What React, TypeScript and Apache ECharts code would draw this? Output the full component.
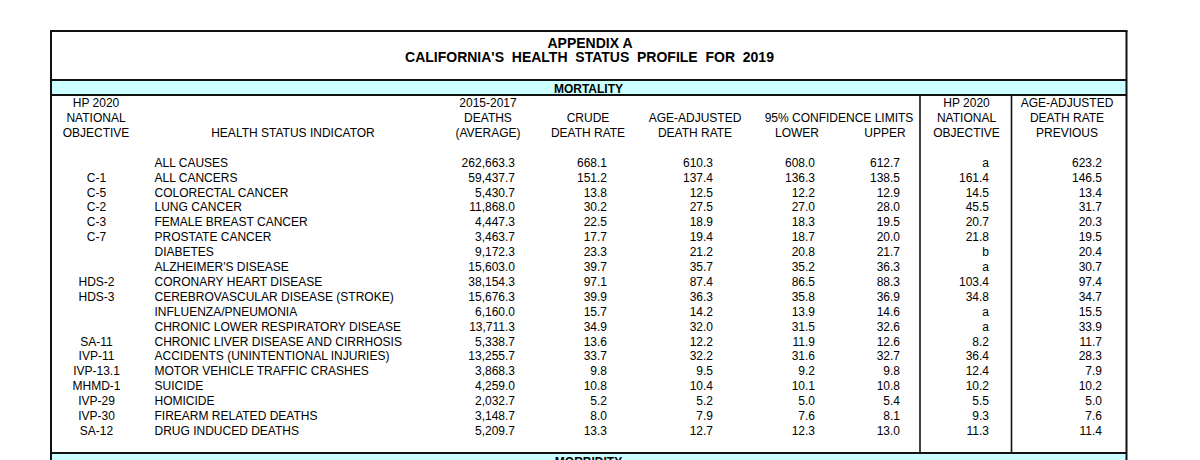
import React, { useEffect, useRef } from "react";
import * as echarts from "echarts";

// ---------- DATA ----------
const titleLines = [
  "APPENDIX A",
  "CALIFORNIA'S\u00a0 HEALTH\u00a0 STATUS\u00a0 PROFILE\u00a0 FOR\u00a0 2019",
];
const sectionLabels = ["MORTALITY", "MORBIDITY"];

const headerObjective = ["HP 2020", "NATIONAL", "OBJECTIVE"];
const headerIndicator = ["", "", "HEALTH STATUS INDICATOR"];
const headerDeaths = ["2015-2017", "DEATHS", "(AVERAGE)"];
const headerCrude = ["", "CRUDE", "DEATH RATE"];
const headerAgeAdj = ["", "AGE-ADJUSTED", "DEATH RATE"];
const headerCI = ["", "95% CONFIDENCE LIMITS", ""];
const headerLower = ["", "", "LOWER"];
const headerUpper = ["", "", "UPPER"];
const headerHp = ["HP 2020", "NATIONAL", "OBJECTIVE"];
const headerPrevious = ["AGE-ADJUSTED", "DEATH RATE", "PREVIOUS"];

const codes = [
  "", "C-1", "C-5", "C-2", "C-3", "C-7", "", "", "HDS-2", "HDS-3",
  "", "", "SA-11", "IVP-11", "IVP-13.1", "MHMD-1", "IVP-29", "IVP-30", "SA-12",
];
const indicators = [
  "ALL CAUSES",
  "ALL CANCERS",
  "COLORECTAL CANCER",
  "LUNG CANCER",
  "FEMALE BREAST CANCER",
  "PROSTATE CANCER",
  "DIABETES",
  "ALZHEIMER'S DISEASE",
  "CORONARY HEART DISEASE",
  "CEREBROVASCULAR DISEASE (STROKE)",
  "INFLUENZA/PNEUMONIA",
  "CHRONIC LOWER RESPIRATORY DISEASE",
  "CHRONIC LIVER DISEASE AND CIRRHOSIS",
  "ACCIDENTS (UNINTENTIONAL INJURIES)",
  "MOTOR VEHICLE TRAFFIC CRASHES",
  "SUICIDE",
  "HOMICIDE",
  "FIREARM RELATED DEATHS",
  "DRUG INDUCED DEATHS",
];
const deaths = [
  262663.3, 59437.7, 5430.7, 11868.0, 4447.3, 3463.7, 9172.3, 15603.0, 38154.3, 15676.3,
  6160.0, 13711.3, 5338.7, 13255.7, 3868.3, 4259.0, 2032.7, 3148.7, 5209.7,
];
const crudeRate = [
  668.1, 151.2, 13.8, 30.2, 22.5, 17.7, 23.3, 39.7, 97.1, 39.9,
  15.7, 34.9, 13.6, 33.7, 9.8, 10.8, 5.2, 8.0, 13.3,
];
const ageAdjRate = [
  610.3, 137.4, 12.5, 27.5, 18.9, 19.4, 21.2, 35.7, 87.4, 36.3,
  14.2, 32.0, 12.2, 32.2, 9.5, 10.4, 5.2, 7.9, 12.7,
];
const lowerLimit = [
  608.0, 136.3, 12.2, 27.0, 18.3, 18.7, 20.8, 35.2, 86.5, 35.8,
  13.9, 31.5, 11.9, 31.6, 9.2, 10.1, 5.0, 7.6, 12.3,
];
const upperLimit = [
  612.7, 138.5, 12.9, 28.0, 19.5, 20.0, 21.7, 36.3, 88.3, 36.9,
  14.6, 32.6, 12.6, 32.7, 9.8, 10.8, 5.4, 8.1, 13.0,
];
const hpObjective = [
  "a", "161.4", "14.5", "45.5", "20.7", "21.8", "b", "a", "103.4", "34.8",
  "a", "a", "8.2", "36.4", "12.4", "10.2", "5.5", "9.3", "11.3",
];
const previousRate = [
  623.2, 146.5, 13.4, 31.7, 20.3, 19.5, 20.4, 30.7, 97.4, 34.7,
  15.5, 33.9, 11.7, 28.3, 7.9, 10.2, 5.0, 7.6, 11.4,
];

// ---------- LAYOUT ----------
const W = 1200;
const H = 460;
const FONT = '"Liberation Sans", Arial, Helvetica, sans-serif';
const LEFT = 51;
const RIGHT = 1126.5;
const TOP = 31;
const BAND1_TOP = 80;
const BAND1_BOT = 95;
const BAND2_TOP = 453;
const VLINE1 = 920;
const VLINE2 = 1011.5;
const ROW_FIRST = 162.7;
const ROW_STEP = 14.9;
const HEADER_Y = [103.3, 118, 132.7];

type Col = { x: number; align: "left" | "center" | "right" };
const COLS: Col[] = [
  { x: 96.5, align: "center" },
  { x: 154.5, align: "left" },
  { x: 515, align: "right" },
  { x: 607, align: "right" },
  { x: 713, align: "right" },
  { x: 815, align: "right" },
  { x: 900, align: "right" },
  { x: 989, align: "right" },
  { x: 1102, align: "right" },
];

const HEADERS: { lines: string[]; x: number }[] = [
  { lines: headerObjective, x: 96 },
  { lines: headerIndicator, x: 293 },
  { lines: headerDeaths, x: 488 },
  { lines: headerCrude, x: 588 },
  { lines: headerAgeAdj, x: 695 },
  { lines: headerCI, x: 839 },
  { lines: headerLower, x: 797 },
  { lines: headerUpper, x: 885 },
  { lines: headerHp, x: 966.5 },
  { lines: headerPrevious, x: 1067 },
];

const fmt = (v: number) =>
  v.toLocaleString("en-US", { minimumFractionDigits: 1, maximumFractionDigits: 1 });

function buildCells() {
  const columns: string[][] = [
    codes,
    indicators,
    deaths.map(fmt),
    crudeRate.map(fmt),
    ageAdjRate.map(fmt),
    lowerLimit.map(fmt),
    upperLimit.map(fmt),
    hpObjective,
    previousRate.map(fmt),
  ];
  const data: { value: [number, number]; text: string }[] = [];
  columns.forEach((col, c) => {
    col.forEach((t, r) => {
      if (t !== "") data.push({ value: [c, r], text: t });
    });
  });
  return data;
}

function textEl(text: string, x: number, y: number, align: string, size = 12, weight = "normal") {
  return {
    type: "text",
    silent: true,
    style: {
      text,
      x,
      y,
      fill: "#000",
      font: `${weight} ${size}px ${FONT}`,
      textAlign: align,
      textVerticalAlign: "middle",
    },
  };
}

function lineEl(x1: number, y1: number, x2: number, y2: number, w = 2) {
  return {
    type: "line",
    silent: true,
    shape: { x1, y1, x2, y2 },
    style: { stroke: "#111", lineWidth: w },
  };
}

export default function App() {
  const ref = useRef<HTMLDivElement>(null);

  useEffect(() => {
    if (!ref.current) return;
    const chart = echarts.init(ref.current, undefined, { renderer: "svg", width: W, height: H });
    const cells = buildCells();
    const n = indicators.length;
    const gridTop = ROW_FIRST - ROW_STEP / 2;
    const gridBottom = H - (gridTop + ROW_STEP * n);

    const graphics: any[] = [
      { type: "rect", silent: true, shape: { x: LEFT, y: BAND1_TOP, width: RIGHT - LEFT, height: BAND1_BOT - BAND1_TOP }, style: { fill: "#ccffff" } },
      { type: "rect", silent: true, shape: { x: LEFT, y: BAND2_TOP, width: RIGHT - LEFT, height: 20 }, style: { fill: "#ccffff" } },
      lineEl(LEFT - 1, TOP, RIGHT + 1, TOP),
      lineEl(LEFT, TOP, LEFT, H + 5),
      lineEl(RIGHT, TOP, RIGHT, H + 5),
      lineEl(LEFT, BAND1_TOP, RIGHT, BAND1_TOP),
      lineEl(LEFT, BAND1_BOT, RIGHT, BAND1_BOT),
      lineEl(LEFT, BAND2_TOP, RIGHT, BAND2_TOP),
      lineEl(VLINE1, BAND1_BOT, VLINE1, BAND2_TOP, 1.6),
      lineEl(VLINE2, BAND1_BOT, VLINE2, BAND2_TOP, 1.6),
      textEl(titleLines[0], 590, 42.7, "center", 14, "bold"),
      textEl(titleLines[1], 589.5, 56.7, "center", 14, "bold"),
      textEl(sectionLabels[0], 588.5, 88.5, "center", 12, "bold"),
      textEl(sectionLabels[1], 588.5, 462, "center", 12, "bold"),
    ];
    HEADERS.forEach((h) => {
      h.lines.forEach((t, i) => {
        if (t !== "") graphics.push(textEl(t, h.x, HEADER_Y[i], "center"));
      });
    });

    chart.setOption({
      animation: false,
      grid: { left: 0, right: 0, top: gridTop, bottom: gridBottom },
      xAxis: { type: "value", min: 0, max: W, show: false },
      yAxis: { type: "category", data: indicators, inverse: true, show: false },
      graphic: graphics,
      series: [
        {
          type: "custom",
          silent: true,
          clip: false,
          data: cells.map((d) => d.value),
          renderItem: (params: any, api: any) => {
            const c = api.value(0);
            const r = api.value(1);
            const col = COLS[c];
            const pt = api.coord([col.x, r]);
            return {
              type: "text",
              style: {
                text: cells[params.dataIndex].text,
                x: pt[0],
                y: pt[1],
                fill: "#000",
                font: `12px ${FONT}`,
                textAlign: col.align,
                textVerticalAlign: "middle",
              },
            };
          },
        },
      ],
    });
    return () => chart.dispose();
  }, []);

  return (
    <div
      ref={ref}
      style={{ position: "fixed", left: 0, top: 0, width: W, height: H, background: "#fff" }}
    />
  );
}
